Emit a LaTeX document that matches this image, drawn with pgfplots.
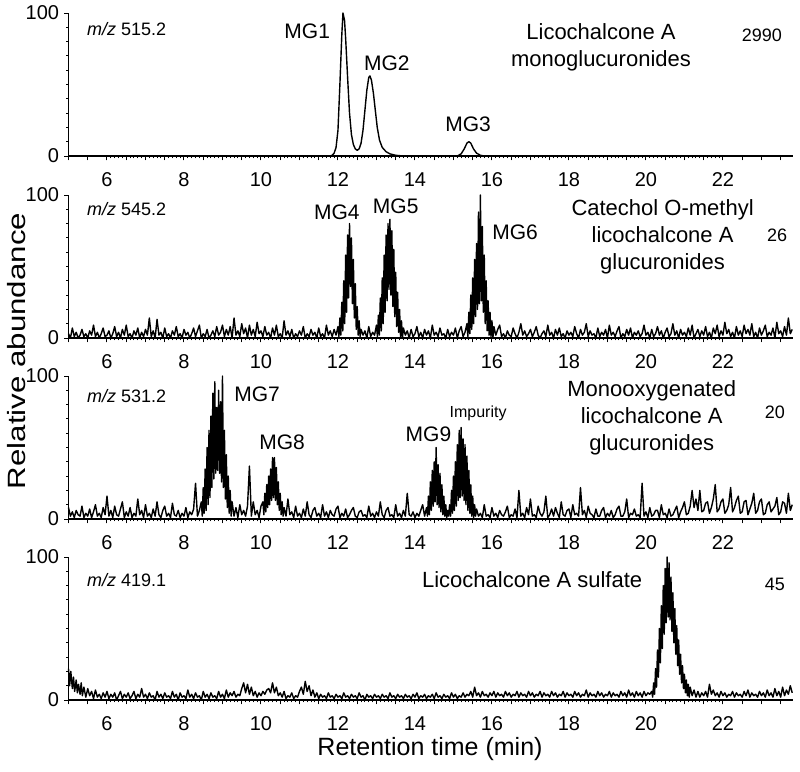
\documentclass[border=0pt]{standalone}
\usepackage{pgfplots}
\pgfplotsset{compat=1.18}
\usepackage{fontspec}
\setmainfont{Liberation Sans}

\pgfplotsset{
  panel/.style={
    anchor=south west,
    scale only axis,
    width=362.25pt, height=71.5pt,
    xmin=5, xmax=23.82, ymin=0, ymax=100,
    axis x line*=bottom, axis y line*=left,
    axis line style={line width=0.8pt},
    tick align=outside,
    xtick={6,8,...,22},
    minor x tick num=19,
    extra x ticks={5,5.5,...,23.5},
    extra x tick labels={},
    extra x tick style={major tick length=2.2pt},
    ytick={0,100},
    minor ytick={10,20,...,90},
    major tick length=2.2pt, minor tick length=1.2pt,
    every tick/.style={black, line width=0.5pt},
    tick label style={font=\fontsize{10}{11}\selectfont},
    xticklabel style={yshift=-2.5pt},
    yticklabel style={xshift=1pt},
    /pgf/number format/assume math mode=true,
    clip=false,
  },
  trace/.style={black, line width=0.7pt, line join=round, mark=none},
}
\tikzset{lab/.style={font=\fontsize{10.5}{12}\selectfont}}

\begin{document}
\begin{tikzpicture}
\useasboundingbox (0,0) rectangle (400pt,-386pt);

% ---------- panel 1: m/z 515.2 ----------
\begin{axis}[panel, at={(34.25pt,-78pt)}]
\addplot[black, line width=0.7pt, line join=round] coordinates {
(5,0)(11.8,0)(11.85,0.5)(11.9,2)(11.95,6)(12.0,18)(12.05,50)(12.1,85)(12.13,100)
(12.17,95)(12.2,82)(12.25,55)(12.3,30)(12.35,15)(12.4,8)(12.45,5)(12.5,4)(12.55,5)
(12.6,9)(12.65,18)(12.7,32)(12.75,46)(12.8,55)(12.83,56)(12.87,53)(12.92,44)(12.97,32)
(13.02,20)(13.08,11)(13.15,6)(13.25,3)(13.35,1.5)(13.5,0.5)(13.7,0)(15.1,0)(15.2,1.5)
(15.28,5)(15.35,9)(15.4,10)(15.45,9)(15.52,5)(15.6,2)(15.7,0.5)(15.8,0)(23.82,0)
};
\node[anchor=west, font=\fontsize{9}{10}\selectfont] at (rel axis cs:0.016,0.89) {\textit{m/z} 515.2};
\node[align=center, font=\fontsize{11}{13.5}\selectfont] at (rel axis cs:0.735,0.76) {Licochalcone A\\monoglucuronides};
\node[font=\fontsize{9}{10}\selectfont] at (rel axis cs:0.957,0.845) {2990};
\node[lab] at (axis cs:11.2,87) {MG1};
\node[lab] at (axis cs:13.27,65) {MG2};
\node[lab] at (axis cs:15.38,22) {MG3};
\end{axis}

% ---------- panel 2: m/z 545.2 ----------
\begin{axis}[panel, at={(34.25pt,-169pt)}]
\addplot[trace] coordinates {
(5.00,3)(5.05,0)(5.10,7)(5.15,1)(5.20,4)(5.25,0)(5.30,2)(5.35,6)(5.40,1)(5.45,3)
(5.50,0)(5.55,5)(5.60,2)(5.65,9)(5.70,1)(5.75,4)(5.80,0)(5.85,3)(5.90,7)(5.95,1)
(6.00,2)(6.05,5)(6.10,0)(6.15,3)(6.20,8)(6.25,1)(6.30,4)(6.35,0)(6.40,6)(6.45,2)
(6.50,9)(6.55,1)(6.60,3)(6.65,0)(6.70,5)(6.75,2)(6.80,7)(6.85,0)(6.90,4)(6.95,1)
(7.00,6)(7.05,2)(7.10,14)(7.15,1)(7.20,5)(7.25,0)(7.30,13)(7.35,2)(7.40,4)(7.45,0)
(7.50,7)(7.55,1)(7.60,3)(7.65,0)(7.70,5)(7.75,2)(7.80,8)(7.85,1)(7.90,3)(7.95,0)
(8.00,6)(8.05,2)(8.10,4)(8.15,0)(8.20,3)(8.25,7)(8.30,1)(8.35,5)(8.40,9)(8.45,0)
(8.50,3)(8.55,1)(8.60,6)(8.65,0)(8.70,2)(8.75,5)(8.80,1)(8.85,8)(8.90,2)(8.95,4)
(9.00,9)(9.05,1)(9.10,6)(9.15,2)(9.20,8)(9.25,0)(9.30,14)(9.35,2)(9.40,5)(9.45,1)
(9.50,10)(9.55,3)(9.60,7)(9.65,0)(9.70,9)(9.75,2)(9.80,6)(9.85,1)(9.90,11)(9.95,3)
(10.00,5)(10.05,1)(10.10,8)(10.15,2)(10.20,4)(10.25,0)(10.30,7)(10.35,2)(10.40,9)(10.45,1)
(10.50,3)(10.55,0)(10.60,12)(10.65,2)(10.70,5)(10.75,1)(10.80,6)(10.85,0)(10.90,3)(10.95,1)
(11.00,5)(11.05,2)(11.10,8)(11.15,0)(11.20,3)(11.25,1)(11.30,6)(11.35,2)(11.40,4)(11.45,0)
(11.50,7)(11.55,1)(11.60,3)(11.65,0)(11.70,9)(11.75,2)(11.80,5)(11.85,1)(11.90,6)(11.95,2)
(12.000,8)(12.025,1)(12.050,14)(12.075,2)(12.100,25)(12.125,5)(12.150,40)(12.175,10)
(12.200,58)(12.225,18)(12.250,72)(12.275,28)(12.300,80)(12.325,36)(12.350,70)(12.375,24)
(12.400,55)(12.425,14)(12.450,38)(12.475,6)(12.500,22)(12.525,2)(12.550,12)(12.575,1)(12.600,6)
(12.65,2)(12.70,5)(12.75,0)(12.80,8)(12.85,1)(12.90,4)(12.95,2)
(13.000,9)(13.025,1)(13.050,16)(13.075,2)(13.100,28)(13.125,5)(13.150,42)(13.175,10)
(13.200,58)(13.225,18)(13.250,72)(13.275,26)(13.300,80)(13.325,34)(13.350,83)(13.375,30)
(13.400,75)(13.425,22)(13.450,62)(13.475,15)(13.500,46)(13.525,8)(13.550,32)(13.575,4)
(13.600,20)(13.625,1)(13.650,12)(13.675,0)(13.700,7)
(13.75,2)(13.80,5)(13.85,0)(13.90,6)(13.95,1)(14.00,3)(14.05,8)(14.10,1)(14.15,4)(14.20,0)
(14.25,6)(14.30,2)(14.35,5)(14.40,0)(14.45,9)(14.50,2)(14.55,4)(14.60,1)(14.65,7)(14.70,2)
(14.75,3)(14.80,0)(14.85,6)(14.90,1)(14.95,4)(15.00,2)(15.05,7)(15.10,0)(15.15,5)(15.20,8)
(15.25,1)(15.30,4)
(15.350,10)(15.375,1)(15.400,18)(15.425,3)(15.450,30)(15.475,6)(15.500,42)(15.525,10)
(15.550,55)(15.575,15)(15.600,66)(15.625,20)(15.650,88)(15.675,24)(15.700,100)(15.725,26)
(15.750,78)(15.775,18)(15.800,58)(15.825,10)(15.850,40)(15.875,5)(15.900,26)(15.925,2)
(15.950,18)(15.975,1)(16.000,12)(16.025,0)(16.050,8)
(16.10,2)(16.15,6)(16.20,9)(16.25,1)(16.30,3)(16.35,0)(16.40,5)(16.45,2)(16.50,1)(16.55,7)
(16.60,3)(16.65,0)(16.70,4)(16.75,10)(16.80,2)(16.85,5)(16.90,1)(16.95,3)
(17.00,6)(17.05,1)(17.10,4)(17.15,8)(17.20,2)(17.25,0)(17.30,3)(17.35,5)(17.40,1)(17.45,9)
(17.50,2)(17.55,4)(17.60,0)(17.65,6)(17.70,2)(17.75,7)(17.80,1)(17.85,3)(17.90,0)(17.95,5)
(18.00,2)(18.05,4)(18.10,1)(18.15,8)(18.20,3)(18.25,0)(18.30,6)(18.35,2)(18.40,4)(18.45,10)
(18.50,1)(18.55,5)(18.60,2)(18.65,3)(18.70,0)(18.75,7)(18.80,1)(18.85,4)(18.90,2)(18.95,6)
(19.00,0)(19.05,9)(19.10,2)(19.15,4)(19.20,1)(19.25,5)(19.30,8)(19.35,0)(19.40,3)(19.45,1)
(19.50,6)(19.55,2)(19.60,7)(19.65,0)(19.70,4)(19.75,2)(19.80,5)(19.85,1)(19.90,3)(19.95,9)
(20.00,2)(20.05,4)(20.10,0)(20.15,6)(20.20,1)(20.25,3)(20.30,8)(20.35,2)(20.40,5)(20.45,0)
(20.50,4)(20.55,7)(20.60,1)(20.65,3)(20.70,10)(20.75,2)(20.80,5)(20.85,0)(20.90,6)(20.95,2)
(21.00,4)(21.05,1)(21.10,7)(21.15,2)(21.20,9)(21.25,0)(21.30,3)(21.35,6)(21.40,1)(21.45,5)
(21.50,2)(21.55,8)(21.60,1)(21.65,4)(21.70,0)(21.75,7)(21.80,3)(21.85,9)(21.90,1)(21.95,5)
(22.00,2)(22.05,11)(22.10,3)(22.15,6)(22.20,1)(22.25,4)(22.30,0)(22.35,8)(22.40,2)(22.45,5)
(22.50,1)(22.55,9)(22.60,3)(22.65,6)(22.70,2)(22.75,10)(22.80,1)(22.85,4)(22.90,0)(22.95,7)
(23.00,2)(23.05,5)(23.10,9)(23.15,1)(23.20,4)(23.25,2)(23.30,7)(23.35,0)(23.40,11)(23.45,3)
(23.50,5)(23.55,1)(23.60,8)(23.65,2)(23.70,14)(23.75,3)(23.80,6)
};
\node[anchor=west, font=\fontsize{9}{10}\selectfont] at (rel axis cs:0.016,0.9) {\textit{m/z} 545.2};
\node[align=center, font=\fontsize{11}{13.5}\selectfont] at (rel axis cs:0.82,0.71) {Catechol O-methyl\\licochalcone A\\glucuronides};
\node[font=\fontsize{9}{10}\selectfont] at (rel axis cs:0.978,0.72) {26};
\node[lab] at (axis cs:11.97,88) {MG4};
\node[lab] at (axis cs:13.5,92) {MG5};
\node[lab] at (axis cs:16.6,74) {MG6};
\end{axis}

% ---------- panel 3: m/z 531.2 ----------
\begin{axis}[panel, at={(34.25pt,-259.5pt)}]
\addplot[trace] coordinates {
(5.00,8)(5.05,2)(5.10,5)(5.15,1)(5.20,6)(5.25,3)(5.30,2)(5.35,9)(5.40,1)(5.45,4)
(5.50,2)(5.55,7)(5.60,1)(5.65,5)(5.70,10)(5.75,2)(5.80,4)(5.85,1)(5.90,8)(5.95,3)
(6.00,16)(6.05,2)(6.10,6)(6.15,1)(6.20,9)(6.25,3)(6.30,2)(6.35,7)(6.40,12)(6.45,1)
(6.50,5)(6.55,2)(6.60,8)(6.65,1)(6.70,4)(6.75,2)(6.80,14)(6.85,3)(6.90,6)(6.95,1)
(7.00,10)(7.05,2)(7.10,4)(7.15,1)(7.20,7)(7.25,2)(7.30,12)(7.35,3)(7.40,1)(7.45,6)
(7.50,9)(7.55,2)(7.60,4)(7.65,1)(7.70,11)(7.75,3)(7.80,2)(7.85,6)(7.90,1)(7.95,4)
(8.00,2)(8.05,8)(8.10,1)(8.15,5)(8.20,3)(8.25,7)(8.30,25)(8.35,2)(8.40,6)
(8.450,12)(8.475,2)(8.500,22)(8.525,4)(8.550,35)(8.575,6)(8.600,50)(8.625,10)
(8.650,62)(8.675,15)(8.700,72)(8.725,22)(8.750,88)(8.775,28)(8.800,96)(8.825,32)
(8.850,78)(8.875,34)(8.900,90)(8.925,32)(8.950,82)(8.975,26)(9.000,100)(9.025,22)
(9.050,62)(9.075,14)(9.100,45)(9.125,8)(9.150,30)(9.175,4)(9.200,20)(9.225,2)(9.250,12)
(9.30,2)(9.35,8)(9.40,1)(9.45,10)(9.50,3)(9.55,6)(9.60,2)(9.65,9)(9.70,37)(9.75,2)
(9.80,12)(9.85,3)(9.90,6)(9.95,1)(10.00,9)
(10.050,12)(10.075,3)(10.100,18)(10.125,5)(10.150,24)(10.175,8)(10.200,30)(10.225,10)
(10.250,35)(10.275,13)(10.300,43)(10.325,15)(10.350,43)(10.375,13)(10.400,36)(10.425,10)
(10.450,26)(10.475,6)(10.500,18)(10.525,3)(10.550,12)(10.575,2)(10.600,8)
(10.65,2)(10.70,14)(10.75,3)(10.80,5)(10.85,1)(10.90,9)(10.95,2)(11.00,4)(11.05,1)(11.10,7)
(11.15,2)(11.20,12)(11.25,3)(11.30,1)(11.35,6)(11.40,8)(11.45,2)(11.50,4)(11.55,1)(11.60,10)
(11.65,2)(11.70,5)(11.75,1)(11.80,6)(11.85,3)(11.90,2)(11.95,7)
(12.00,9)(12.05,1)(12.10,4)(12.15,2)(12.20,7)(12.25,1)(12.30,3)(12.35,6)(12.40,8)(12.45,2)
(12.50,1)(12.55,5)(12.60,6)(12.65,2)(12.70,3)(12.75,1)(12.80,9)(12.85,2)(12.90,4)(12.95,1)
(13.00,5)(13.05,2)(13.10,12)(13.15,3)(13.20,1)(13.25,6)(13.30,8)(13.35,2)(13.40,3)(13.45,1)
(13.50,10)(13.55,2)(13.60,4)(13.65,1)(13.70,6)(13.75,2)(13.80,18)(13.85,3)(13.90,2)(13.95,5)
(14.00,1)(14.05,4)(14.10,2)(14.15,6)(14.20,10)(14.25,2)
(14.300,8)(14.325,2)(14.350,16)(14.375,3)(14.400,26)(14.425,6)(14.450,34)(14.475,9)
(14.500,40)(14.525,12)(14.550,50)(14.575,10)(14.600,38)(14.625,8)(14.650,32)(14.675,5)
(14.700,24)(14.725,3)(14.750,16)(14.775,2)(14.800,10)(14.825,1)(14.850,6)(14.875,2)
(14.900,10)(14.925,2)(14.950,20)(14.975,4)(15.000,30)(15.025,6)(15.050,40)(15.075,9)
(15.100,52)(15.125,13)(15.150,62)(15.175,15)(15.200,64)(15.225,16)(15.250,56)(15.275,13)
(15.300,52)(15.325,10)(15.350,44)(15.375,6)(15.400,34)(15.425,4)(15.450,24)(15.475,2)
(15.500,16)(15.525,1)(15.550,10)(15.575,2)(15.600,7)
(15.65,2)(15.70,4)(15.75,1)(15.80,10)(15.85,2)(15.90,3)(15.95,1)(16.00,8)(16.05,2)(16.10,4)
(16.15,1)(16.20,6)(16.25,3)(16.30,2)(16.35,5)(16.40,9)(16.45,1)(16.50,3)(16.55,2)(16.60,7)
(16.65,1)(16.70,20)(16.75,2)(16.80,4)(16.85,1)(16.90,8)(16.95,3)(17.00,14)(17.05,2)(17.10,3)
(17.15,1)(17.20,9)(17.25,4)(17.30,2)(17.35,5)(17.40,16)(17.45,1)(17.50,3)(17.55,7)(17.60,2)
(17.65,8)(17.70,4)(17.75,1)(17.80,12)(17.85,3)(17.90,2)(17.95,6)(18.00,7)(18.05,1)(18.10,10)
(18.15,3)(18.20,4)(18.25,2)(18.30,22)(18.35,3)(18.40,6)(18.45,1)(18.50,9)(18.55,4)(18.60,3)
(18.65,1)(18.70,7)(18.75,2)(18.80,2)(18.85,6)(18.90,8)(18.95,1)(19.00,4)(19.05,2)(19.10,6)
(19.15,1)(19.20,3)(19.25,7)(19.30,9)(19.35,2)(19.40,2)(19.45,5)(19.50,14)(19.55,1)(19.60,4)
(19.65,3)(19.70,7)(19.75,2)(19.80,3)(19.85,1)(19.90,25)(19.95,2)(20.00,5)(20.05,1)(20.10,8)
(20.15,2)(20.20,3)(20.25,6)(20.30,6)(20.35,1)(20.40,10)(20.45,3)(20.50,4)(20.55,1)(20.60,7)
(20.65,2)(20.70,3)(20.75,6)(20.80,9)(20.85,1)(20.90,5)(20.95,8)(21.00,12)(21.05,3)(21.10,4)
(21.15,9)(21.20,20)(21.25,8)(21.30,14)(21.35,6)(21.40,20)(21.45,5)(21.50,6)(21.55,11)(21.60,12)
(21.65,4)(21.70,8)(21.75,14)(21.80,24)(21.85,5)(21.90,7)(21.95,12)(22.00,14)(22.05,4)(22.10,6)
(22.15,10)(22.20,22)(22.25,5)(22.30,8)(22.35,13)(22.40,16)(22.45,4)(22.50,5)(22.55,12)(22.60,13)
(22.65,3)(22.70,7)(22.75,11)(22.80,18)(22.85,4)(22.90,6)(22.95,12)(23.00,14)(23.05,3)(23.10,4)
(23.15,10)(23.20,12)(23.25,5)(23.30,7)(23.35,9)(23.40,15)(23.45,3)(23.50,5)(23.55,12)(23.60,11)
(23.65,4)(23.70,18)(23.75,6)(23.80,10)
};
\node[anchor=west, font=\fontsize{9}{10}\selectfont] at (rel axis cs:0.016,0.86) {\textit{m/z} 531.2};
\node[align=center, font=\fontsize{11}{13.5}\selectfont] at (rel axis cs:0.805,0.71) {Monooxygenated\\licochalcone A\\glucuronides};
\node[font=\fontsize{9}{10}\selectfont] at (rel axis cs:0.975,0.745) {20};
\node[lab] at (axis cs:9.9,87) {MG7};
\node[lab] at (axis cs:10.55,54) {MG8};
\node[lab] at (axis cs:14.35,59) {MG9};
\node[font=\fontsize{8}{9}\selectfont] at (axis cs:15.64,74) {Impurity};
\end{axis}

% ---------- panel 4: m/z 419.1 ----------
\begin{axis}[panel, at={(34.25pt,-350pt)}]
\addplot[trace] coordinates {
(5.00,22)(5.03,10)(5.06,20)(5.10,8)(5.13,16)(5.16,6)(5.20,14)(5.23,5)(5.26,11)(5.30,4)
(5.33,12)(5.36,3)(5.40,9)(5.45,2)(5.50,8)(5.55,3)(5.60,6)(5.65,1)(5.70,7)(5.75,2)
(5.80,4)(5.85,1)(5.90,5)(5.95,2)
(6.00,6)(6.05,1)(6.10,4)(6.15,2)(6.20,5)(6.25,0)(6.30,3)(6.35,6)(6.40,1)(6.45,4)
(6.50,2)(6.55,5)(6.60,1)(6.65,3)(6.70,6)(6.75,1)(6.80,4)(6.85,2)(6.90,8)(6.95,2)
(7.00,4)(7.05,1)(7.10,5)(7.15,2)(7.20,3)(7.25,0)(7.30,6)(7.35,2)(7.40,4)(7.45,1)
(7.50,5)(7.55,2)(7.60,3)(7.65,1)(7.70,6)(7.75,2)(7.80,4)(7.85,0)(7.90,5)(7.95,2)
(8.00,3)(8.05,1)(8.10,7)(8.15,2)(8.20,4)(8.25,1)(8.30,5)(8.35,2)(8.40,3)(8.45,0)
(8.50,6)(8.55,2)(8.60,4)(8.65,1)(8.70,5)(8.75,2)(8.80,3)(8.85,1)(8.90,6)(8.95,2)
(9.00,4)(9.05,1)(9.10,7)(9.15,2)(9.20,5)(9.25,3)(9.30,6)(9.35,2)(9.40,4)(9.45,3)
(9.50,8)(9.55,12)(9.60,5)(9.65,11)(9.70,4)(9.75,9)(9.80,3)(9.85,6)(9.90,2)(9.95,5)
(10.00,3)(10.05,6)(10.10,4)(10.15,7)(10.20,8)(10.25,5)(10.30,12)(10.35,5)(10.40,9)(10.45,3)
(10.50,5)(10.55,2)(10.60,6)(10.65,1)(10.70,3)(10.75,2)(10.80,5)(10.85,1)(10.90,3)(10.95,2)
(11.00,6)(11.05,9)(11.10,4)(11.15,13)(11.20,6)(11.25,10)(11.30,3)(11.35,7)(11.40,2)(11.45,5)
(11.50,1)(11.55,4)(11.60,2)(11.65,3)(11.70,1)(11.75,5)(11.80,2)(11.85,3)(11.90,1)(11.95,4)
(12.00,2)(12.05,3)(12.10,1)(12.15,5)(12.20,2)(12.25,3)(12.30,1)(12.35,4)(12.40,2)(12.45,3)
(12.50,1)(12.55,5)(12.60,2)(12.65,3)(12.70,0)(12.75,4)(12.80,2)(12.85,3)(12.90,1)(12.95,4)
(13.00,2)(13.05,3)(13.10,1)(13.15,4)(13.20,2)(13.25,3)(13.30,1)(13.35,5)(13.40,2)(13.45,3)
(13.50,1)(13.55,4)(13.60,2)(13.65,3)(13.70,1)(13.75,4)(13.80,2)(13.85,3)(13.90,1)(13.95,4)
(14.00,2)(14.05,5)(14.10,1)(14.15,3)(14.20,2)(14.25,4)(14.30,1)(14.35,3)(14.40,2)(14.45,4)
(14.50,1)(14.55,5)(14.60,2)(14.65,3)(14.70,1)(14.75,4)(14.80,2)(14.85,3)(14.90,1)(14.95,5)
(15.00,2)(15.05,4)(15.10,1)(15.15,3)(15.20,2)(15.25,5)(15.30,2)(15.35,4)(15.40,3)(15.45,6)
(15.50,2)(15.55,9)(15.60,3)(15.65,5)(15.70,2)(15.75,6)(15.80,3)(15.85,4)(15.90,2)(15.95,5)
(16.00,3)(16.05,6)(16.10,2)(16.15,5)(16.20,3)(16.25,4)(16.30,2)(16.35,6)(16.40,3)(16.45,5)
(16.50,2)(16.55,4)(16.60,3)(16.65,6)(16.70,2)(16.75,5)(16.80,3)(16.85,4)(16.90,2)(16.95,6)
(17.00,3)(17.05,5)(17.10,2)(17.15,4)(17.20,3)(17.25,6)(17.30,2)(17.35,5)(17.40,3)(17.45,4)
(17.50,2)(17.55,6)(17.60,3)(17.65,5)(17.70,2)(17.75,4)(17.80,3)(17.85,6)(17.90,2)(17.95,5)
(18.00,3)(18.05,4)(18.10,2)(18.15,6)(18.20,3)(18.25,5)(18.30,2)(18.35,4)(18.40,3)(18.45,7)
(18.50,2)(18.55,5)(18.60,3)(18.65,4)(18.70,2)(18.75,6)(18.80,3)(18.85,5)(18.90,2)(18.95,4)
(19.00,3)(19.05,6)(19.10,2)(19.15,5)(19.20,3)(19.25,4)(19.30,2)(19.35,6)(19.40,3)(19.45,5)
(19.50,2)(19.55,7)(19.60,3)(19.65,5)(19.70,2)(19.75,6)(19.80,3)(19.85,5)(19.90,2)(19.95,6)
(20.00,3)(20.05,5)(20.10,4)
(20.150,6)(20.175,2)(20.200,12)(20.225,4)(20.250,22)(20.275,9)(20.300,35)(20.325,16)
(20.350,50)(20.375,26)(20.400,66)(20.425,36)(20.450,80)(20.475,46)(20.500,92)(20.525,54)
(20.550,100)(20.575,58)(20.600,96)(20.625,56)(20.650,86)(20.675,48)(20.700,75)(20.725,40)
(20.750,64)(20.775,32)(20.800,52)(20.825,24)(20.850,42)(20.875,18)(20.900,32)(20.925,12)
(20.950,24)(20.975,8)(21.000,18)(21.025,5)(21.050,14)(21.075,3)(21.100,11)(21.125,2)
(21.150,9)(21.200,3)(21.250,7)(21.300,2)(21.350,6)
(21.40,2)(21.45,5)(21.50,3)(21.55,6)(21.60,2)(21.65,11)(21.70,4)(21.75,7)(21.80,3)(21.85,5)
(21.90,2)(21.95,6)(22.00,3)(22.05,5)(22.10,2)(22.15,4)(22.20,3)(22.25,6)(22.30,2)(22.35,5)
(22.40,3)(22.45,4)(22.50,2)(22.55,6)(22.60,3)(22.65,7)(22.70,2)(22.75,5)(22.80,3)(22.85,4)
(22.90,2)(22.95,6)(23.00,3)(23.05,5)(23.10,2)(23.15,7)(23.20,3)(23.25,5)(23.30,2)(23.35,8)
(23.40,3)(23.45,6)(23.50,2)(23.55,9)(23.60,3)(23.65,7)(23.70,4)(23.75,10)(23.80,5)
};
\node[anchor=west, font=\fontsize{9}{10}\selectfont] at (rel axis cs:0.016,0.84) {\textit{m/z} 419.1};
\node[font=\fontsize{11}{13.5}\selectfont] at (rel axis cs:0.64,0.845) {Licochalcone A sulfate};
\node[font=\fontsize{9}{10}\selectfont] at (rel axis cs:0.975,0.81) {45};
\end{axis}

\node[rotate=90, font=\fontsize{12.5}{14}\selectfont] at (8.5pt,-175.5pt) {\scalebox{1.25}[1]{Relative abundance}};
\node[anchor=base, font=\fontsize{12.5}{14}\selectfont] at (215pt,-377.5pt) {Retention time (min)};
\end{tikzpicture}
\end{document}
